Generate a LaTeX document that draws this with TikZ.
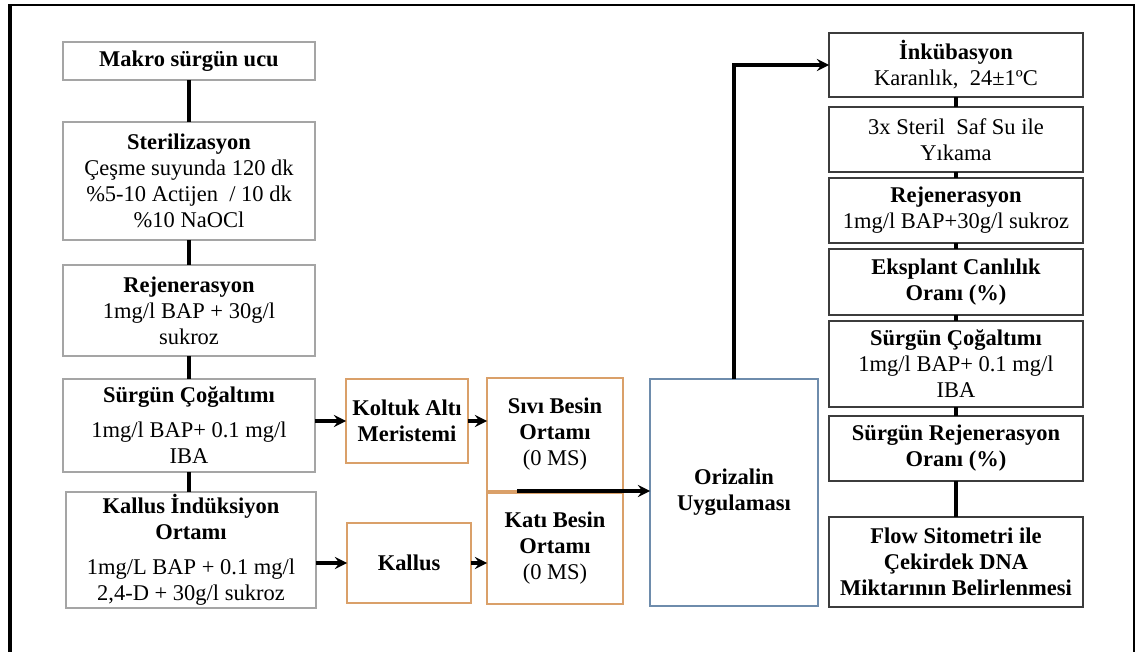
\documentclass[tikz,border=0pt]{standalone}
\usepackage{fontspec}
\setmainfont{Liberation Serif}
\usepackage{tikz}
\usetikzlibrary{arrows,arrows.meta,positioning,calc}
\definecolor{kgri}{RGB}{165,165,165}
\definecolor{kturuncu}{RGB}{218,160,105}
\definecolor{kmavi}{RGB}{110,140,172}
\definecolor{kkoyu}{RGB}{60,60,60}

\begin{document}
\begin{tikzpicture}[x=0.02cm, y=-0.02cm,
  kutu/.style={rectangle, draw=kgri, line width=0.8pt, fill=white, align=center,
    inner sep=0pt, outer sep=0pt, font=\fontsize{12.8}{14.8}\selectfont},
  trk/.style={kutu, draw=kturuncu},
  mvi/.style={kutu, draw=kmavi},
  sag/.style={kutu, draw=kkoyu},
  hat/.style={line width=2.2pt, black},
  ok/.style={->, >=stealth, line width=2pt, black}
]
  \useasboundingbox (0,0) rectangle (1136,652);
  % dis cerceve
  \draw[line width=1.3pt] (10,5) -- (1134,5) -- (1134,652);
  \draw[line width=2pt] (10,652) -- (10,4.4);

  % sol sutun
  \node[kutu, minimum width=5.04cm, minimum height=0.76cm] (makro) at (189,61)
    {\textbf{Makro sürgün ucu}};
  \node[kutu, minimum width=5.04cm, minimum height=2.36cm] (steril) at (189,181)
    {\textbf{Sterilizasyon}\\Çeşme suyunda 120 dk\\\%5-10 Actijen\ \ / 10 dk\\\%10 NaOCl};
  \node[kutu, minimum width=5.04cm, minimum height=1.82cm] (rejen) at (189,310.5)
    {\textbf{Rejenerasyon}\\1mg/l BAP + 30g/l\\sukroz};
  \node[kutu, minimum width=5.04cm, minimum height=1.86cm] (surgun) at (189,425.5)
    {\textbf{Sürgün Çoğaltımı}\\[5pt]1mg/l BAP+ 0.1 mg/l\\IBA};
  \node[kutu, minimum width=5.0cm, minimum height=2.32cm] (kallusind) at (191,550)
    {\textbf{Kallus İndüksiyon}\\\textbf{Ortamı}\\[5pt]1mg/L BAP + 0.1 mg/l\\2,4-D + 30g/l sukroz};

  % orta
  \node[trk, minimum width=2.44cm, minimum height=1.68cm] (koltuk) at (407,421)
    {\textbf{Koltuk Altı}\\\textbf{Meristemi}};
  \node[trk, minimum width=2.72cm, minimum height=2.26cm] (sivi) at (555,434.5)
    {\textbf{Sıvı Besin}\\\textbf{Ortamı}\\(0 MS)};
  \node[trk, minimum width=2.72cm, minimum height=2.22cm] (kati) at (555,548.5)
    {\textbf{Katı Besin}\\\textbf{Ortamı}\\(0 MS)};
  \node[trk, minimum width=2.48cm, minimum height=1.6cm] (kallus) at (409,563)
    {\textbf{Kallus}};
  \node[mvi, minimum width=3.36cm, minimum height=4.54cm] (oriz) at (734,492.5)
    {\textbf{Orizalin}\\\textbf{Uygulaması}};

  % sag sutun
  \node[sag, minimum width=5.08cm, minimum height=1.28cm] (inku) at (956,65)
    {\textbf{İnkübasyon}\\Karanlık,\ \ 24±1ºC};
  \node[sag, minimum width=5.08cm, minimum height=1.3cm] (yika) at (956,139.5)
    {3x Steril\ \ Saf Su ile\\Yıkama};
  \node[sag, minimum width=5.08cm, minimum height=1.3cm] (rejen2) at (956,210.5)
    {\textbf{Rejenerasyon}\\1mg/l BAP+30g/l sukroz};
  \node[sag, minimum width=5.08cm, minimum height=1.32cm] (eksp) at (956,282)
    {\textbf{Eksplant Canlılık}\\\textbf{Oranı (\%)}};
  \node[sag, minimum width=5.08cm, minimum height=1.72cm] (surgun2) at (956,364)
    {\textbf{Sürgün Çoğaltımı}\\1mg/l BAP+ 0.1 mg/l\\IBA};
  \node[sag, minimum width=5.08cm, minimum height=1.3cm] (surrej) at (956,448.5)
    {\textbf{Sürgün Rejenerasyon}\\\textbf{Oranı (\%)}};
  \node[sag, minimum width=5.08cm, minimum height=1.8cm] (flow) at (956,562)
    {\textbf{Flow Sitometri ile}\\\textbf{Çekirdek DNA}\\\textbf{Miktarının Belirlenmesi}};

  % baglantilar
  \draw[hat] (makro) -- (steril);
  \draw[hat] (steril) -- (rejen);
  \draw[hat] (rejen) -- (surgun);
  \draw[hat] (surgun.south) -- (surgun.south |- kallusind.north);
  \draw[ok] (koltuk.west -| surgun.east) -- (koltuk.west);
  \draw[ok] (koltuk.east) -- (koltuk.east -| sivi.west);
  \draw[ok] (kallus.west -| kallusind.east) -- (kallus.west);
  \draw[ok] (kallus.east) -- (kallus.east -| kati.west);
  \coordinate (sk) at (517,491);
  \draw[ok] (sk) -- (sk -| oriz.west);
  \draw[ok] (oriz.north) |- (inku.west);
  \draw[hat] (inku) -- (yika);
  \draw[hat] (yika) -- (rejen2);
  \draw[hat] (rejen2) -- (eksp);
  \draw[hat] (eksp) -- (surgun2);
  \draw[hat] (surgun2) -- (surrej);
  \draw[hat] (surrej) -- (flow);
\end{tikzpicture}
\end{document}
